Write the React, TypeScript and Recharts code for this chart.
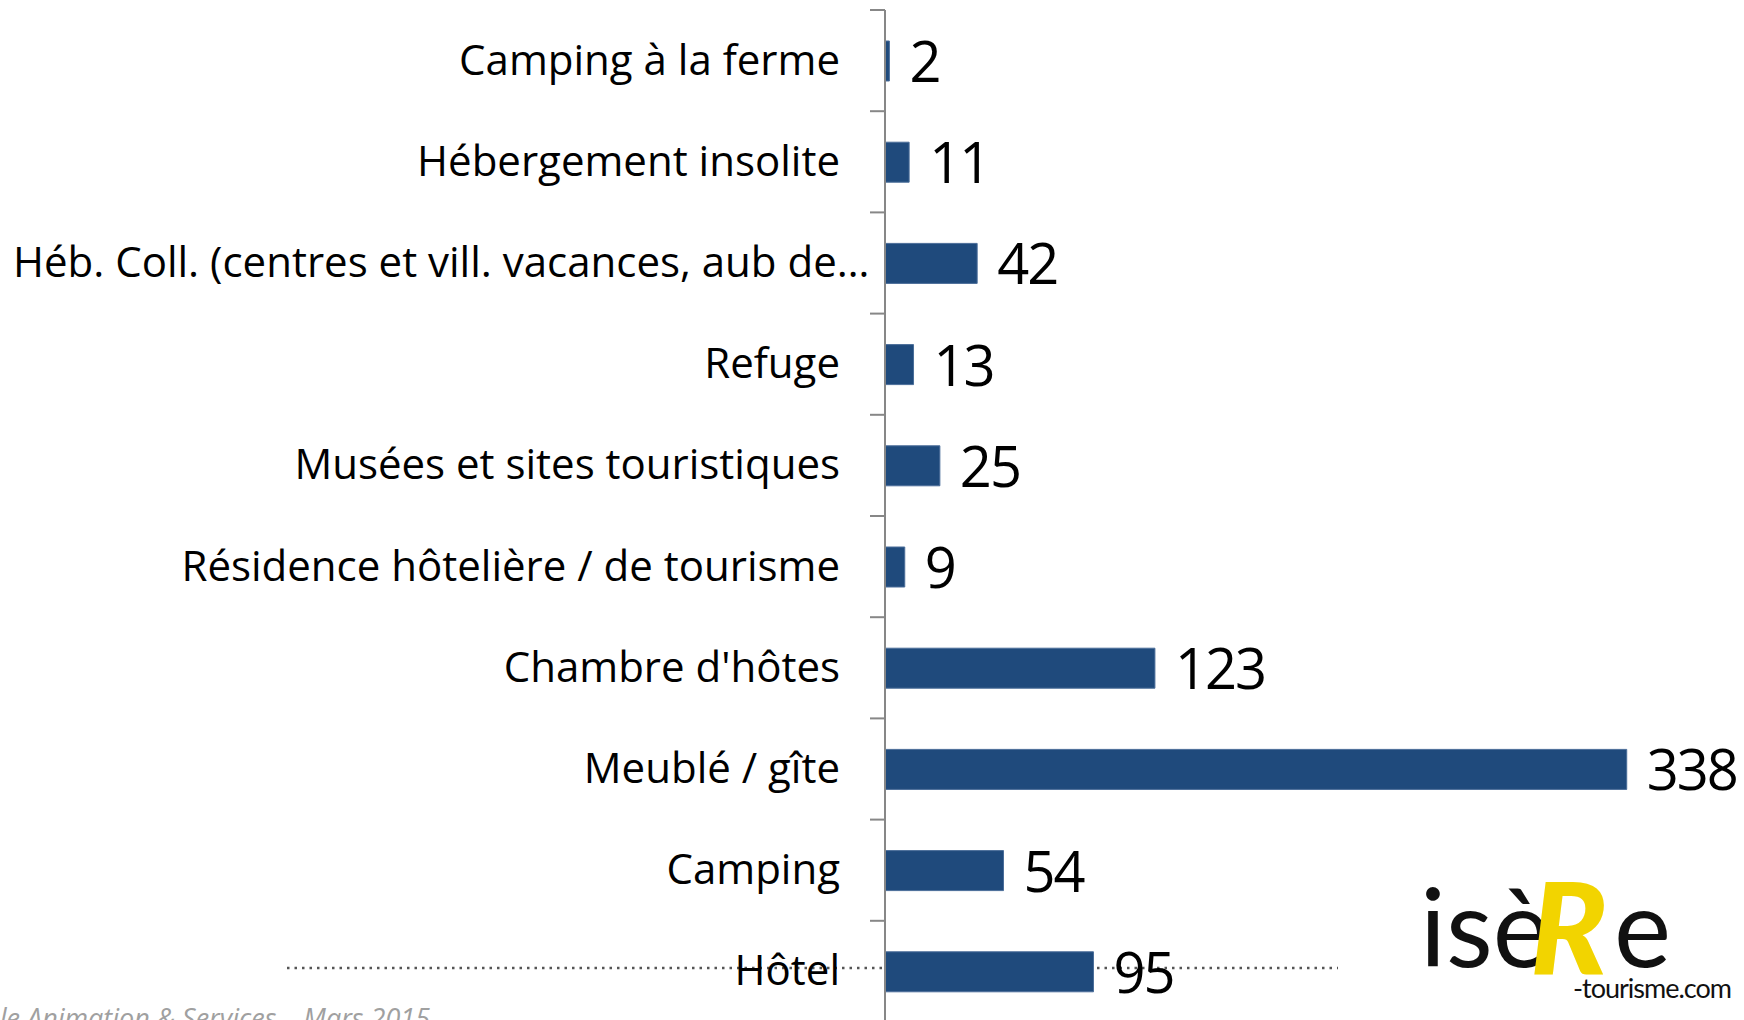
import { BarChart, Bar, XAxis, YAxis, LabelList } from 'recharts';

// Nombre d'établissements par type d'hébergement / site
const categories = [
    'Camping à la ferme',
    'Hébergement insolite',
    'Héb. Coll. (centres et vill. vacances, aub de…',
    'Refuge',
    'Musées et sites touristiques',
    'Résidence hôtelière / de tourisme',
    "Chambre d'hôtes",
    'Meublé / gîte',
    'Camping',
    'Hôtel',
];
const counts = [2, 11, 42, 13, 25, 9, 123, 338, 54, 95];
const xDomain = [0, 360];

const data = categories.map((name, i) => ({ name, value: counts[i] }));

const CHART_W = 1744;
const CHART_H = 1040;
const MARGIN = { top: 10, right: 69, bottom: 18, left: 0 };
const BAND = (CHART_H - MARGIN.top - MARGIN.bottom) / categories.length;

const BAR_COLOR = '#1f4a7c';
const AXIS_COLOR = '#878787';
const FONT = '"Open Sans", sans-serif';

function CategoryTick(props: any) {
    const { x, y, payload } = props;
    const label: string = payload.value;
    const truncated = label.endsWith('…');
    return (
        <g>
            <line x1={x - 15} x2={x} y1={y - BAND / 2} y2={y - BAND / 2} stroke={AXIS_COLOR} strokeWidth={2} />
            <text
                x={truncated ? 13 : x - 45}
                y={y + 14}
                textAnchor={truncated ? 'start' : 'end'}
                fontFamily={FONT}
                fontSize={42}
                fill="#000"
            >
                {label}
            </text>
        </g>
    );
}

function ValueLabel(props: any) {
    const { x, y, width, height, value } = props;
    return (
        <text
            x={x + width + 20}
            y={y + height / 2 + 21}
            fontFamily={FONT}
            fontSize={56}
            letterSpacing={-2}
            fill="#000"
        >
            {value}
        </text>
    );
}

export default function App() {
    return (
        <div style={{ position: 'fixed', left: 0, top: 0, width: CHART_W, height: 1020, overflow: 'hidden', background: '#fff' }}>
            {/* décor de la diapositive : ligne pointillée, pied de page */}
            <svg width={CHART_W} height={1020} style={{ position: 'absolute', left: 0, top: 0 }}>
                <line x1={287} x2={1338} y1={968} y2={968} stroke="#555" strokeWidth={2.5} strokeDasharray="2.5 5" />
                <text x={430} y={1028} textAnchor="end" fontFamily={FONT} fontStyle="italic" fontSize={27} fill="#a0a0a0">
                    Pôle Animation &amp; Services – Mars 2015
                </text>
            </svg>

            <div style={{ position: 'absolute', left: 0, top: 0 }}>
                <BarChart width={CHART_W} height={CHART_H} data={data} layout="vertical" margin={MARGIN}>
                    <XAxis type="number" domain={xDomain} hide />
                    <YAxis
                        type="category"
                        dataKey="name"
                        width={885}
                        interval={0}
                        tickLine={false}
                        tickSize={0}
                        tickMargin={0}
                        axisLine={{ stroke: AXIS_COLOR, strokeWidth: 2 }}
                        tick={(p: any) => <CategoryTick {...p} />}
                    />
                    <Bar dataKey="value" fill={BAR_COLOR} stroke="#4a6d99" strokeWidth={1} barSize={40} isAnimationActive={false}>
                        <LabelList dataKey="value" content={(p: any) => <ValueLabel {...p} />} />
                    </Bar>
                </BarChart>
            </div>

            {/* logo */}
            <svg width={CHART_W} height={1020} style={{ position: 'absolute', left: 0, top: 0, pointerEvents: 'none' }}>
                <text x={1420} y={967} fontFamily="Lato, sans-serif" fontSize={108} fill="#111">isè</text>
                <text x={1530} y={975} fontFamily="Lato, sans-serif" fontWeight={900} fontStyle="italic" fontSize={128} fill="#f2d400">R</text>
                <text x={1614} y={967} fontFamily="Lato, sans-serif" fontSize={108} fill="#111">e</text>
                <text x={1573} y={998} fontFamily="Lato, sans-serif" fontSize={27} letterSpacing={-1} fill="#111">-tourisme.com</text>
            </svg>
        </div>
    );
}
